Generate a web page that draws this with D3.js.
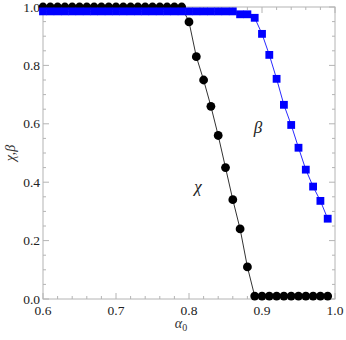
<!DOCTYPE html>
<html><head><meta charset="utf-8">
<script src="https://cdn.jsdelivr.net/npm/d3@7"></script>
<style>body{margin:0;background:#fff}svg{display:block}text{font-family:"Liberation Serif","DejaVu Serif","Noto Serif","Tinos","FreeSerif","Times New Roman",Times,serif}</style>
</head><body>
<script>
// Data
const chiX = [0.60,0.61,0.62,0.63,0.64,0.65,0.66,0.67,0.68,0.69,0.70,0.71,0.72,0.73,0.74,0.75,0.76,0.77,0.78,0.79,0.80,0.81,0.82,0.83,0.84,0.85,0.86,0.87,0.88,0.89,0.90,0.91,0.92,0.93,0.94,0.95,0.96,0.97,0.98,0.99];
const chiY = [1,1,1,1,1,1,1,1,1,1,1,1,1,1,1,1,1,1,1,1,0.949,0.83,0.75,0.66,0.56,0.45,0.34,0.24,0.11,0.01,0.01,0.01,0.01,0.01,0.01,0.01,0.01,0.01,0.01,0.01];
const betaX = [0.60,0.61,0.62,0.63,0.64,0.65,0.66,0.67,0.68,0.69,0.70,0.71,0.72,0.73,0.74,0.75,0.76,0.77,0.78,0.79,0.80,0.81,0.82,0.83,0.84,0.85,0.86,0.87,0.88,0.89,0.90,0.91,0.92,0.93,0.94,0.95,0.96,0.97,0.98,0.99];
const betaY = [0.985,0.985,0.985,0.985,0.985,0.985,0.985,0.985,0.985,0.985,0.985,0.985,0.985,0.985,0.985,0.985,0.985,0.985,0.985,0.985,0.985,0.985,0.985,0.985,0.985,0.985,0.985,0.975,0.975,0.963,0.908,0.836,0.754,0.665,0.596,0.518,0.443,0.385,0.336,0.275];
const xTicks = [0.6,0.7,0.8,0.9,1.0];
const yTicks = [0.0,0.2,0.4,0.6,0.8,1.0];

const W = 346, H = 340;
const m = {l:43, r:11, t:7, b:41};
const svg = d3.select("body").append("svg").attr("width",W).attr("height",H);
const x = d3.scaleLinear().domain([0.6,1.0]).range([m.l, W-m.r]);
const y = d3.scaleLinear().domain([0,1]).range([H-m.b, m.t]);
const axisColor = "#b4b4b4";

svg.append("rect").attr("x",x(0.6)).attr("y",y(1)).attr("width",x(1)-x(0.6)).attr("height",y(0)-y(1))
  .attr("fill","none").attr("stroke",axisColor).attr("stroke-width",1);

const g = svg.append("g");
const xMinor = d3.range(0.6,1.0001,0.02);
xMinor.forEach(v=>{
  const major = Math.abs(v*10-Math.round(v*10))<1e-6;
  const len = major?6:3;
  g.append("line").attr("x1",x(v)).attr("x2",x(v)).attr("y1",y(0)).attr("y2",y(0)-len).attr("stroke",axisColor);
  g.append("line").attr("x1",x(v)).attr("x2",x(v)).attr("y1",y(1)).attr("y2",y(1)+len).attr("stroke",axisColor);
});
const yMinor = d3.range(0,1.0001,0.05);
yMinor.forEach(v=>{
  const major = Math.abs(v*5-Math.round(v*5))<1e-6;
  const len = major?6:3;
  g.append("line").attr("y1",y(v)).attr("y2",y(v)).attr("x1",x(0.6)).attr("x2",x(0.6)+len).attr("stroke",axisColor);
  g.append("line").attr("y1",y(v)).attr("y2",y(v)).attr("x1",x(1)).attr("x2",x(1)-len).attr("stroke",axisColor);
});
g.selectAll(".xl").data(xTicks).enter().append("text")
  .attr("x",d=>x(d)).attr("y",y(0)+16).attr("text-anchor","middle")
  .style("font-size","13.5px").attr("fill","#222").text(d=>d.toFixed(1));
g.selectAll(".yl").data(yTicks).enter().append("text")
  .attr("x",x(0.6)-3).attr("y",d=>y(d)+4.5).attr("text-anchor","end")
  .style("font-size","13.5px").attr("fill","#222").text(d=>d.toFixed(1));

const xt = svg.append("text").attr("x",181).attr("y",328).attr("text-anchor","middle")
  .style("font-size","14px").attr("fill","#333");
xt.append("tspan").style("font-style","italic").text("α");
xt.append("tspan").attr("dy",3).style("font-size","10px").text("0");
svg.append("text").attr("transform","translate(15,153) rotate(-90)").attr("text-anchor","middle")
  .style("font-size","14px").style("font-style","italic").attr("fill","#333").text("χ,β");

const chi = chiX.map((v,i)=>[v,chiY[i]]);
const beta = betaX.map((v,i)=>[v,betaY[i]]);
const line = d3.line().x(d=>x(d[0])).y(d=>y(d[1]));
svg.append("path").attr("d",line(chi)).attr("fill","none").attr("stroke","#333").attr("stroke-width",1);
svg.selectAll(".c").data(chi).enter().append("circle")
  .attr("cx",d=>x(d[0])).attr("cy",d=>y(d[1])).attr("r",4.4).attr("fill","#000");
svg.append("path").attr("d",line(beta)).attr("fill","none").attr("stroke","#2a2aff").attr("stroke-width",1);
const s = 7.8;
svg.selectAll(".s").data(beta).enter().append("rect")
  .attr("x",d=>x(d[0])-s/2).attr("y",d=>y(d[1])-s/2).attr("width",s).attr("height",s).attr("fill","#0000ff");

svg.append("text").attr("x",198).attr("y",192).attr("text-anchor","middle")
  .style("font-size","17px").style("font-style","italic").attr("fill","#222").text("χ");
svg.append("text").attr("x",258).attr("y",133).attr("text-anchor","middle")
  .style("font-size","17px").style("font-style","italic").attr("fill","#222").text("β");
</script>
</body></html>
